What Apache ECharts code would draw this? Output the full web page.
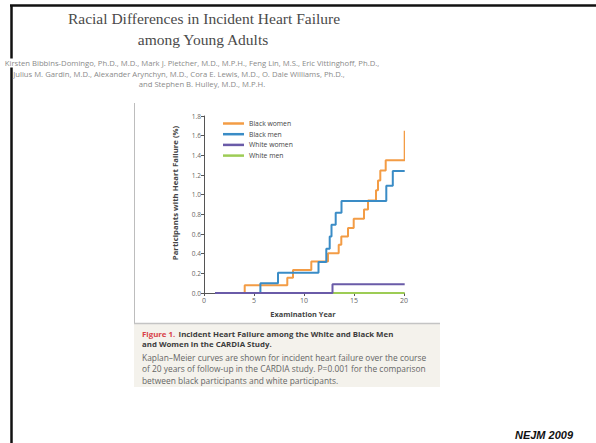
<!DOCTYPE html>
<html>
<head>
<meta charset="utf-8">
<script src="https://cdn.jsdelivr.net/npm/echarts@6/dist/echarts.min.js"></script>
<style>
html,body{margin:0;padding:0;background:#fff;}
#c{width:596px;height:443px;}
</style>
</head>
<body>
<div id="c"></div>
<script>
// ---- data ----
var seriesNames = ['Black women', 'Black men', 'White women', 'White men'];
var blackWomenYears = [1.1, 4.07, 8.33, 8.9, 10.73, 12.4, 13.47, 13.73, 14.4, 14.97, 16.0, 16.4, 17.2, 17.4, 17.63, 18.17, 20.07];
var blackWomenVals  = [0, 0.08, 0.155, 0.235, 0.32, 0.405, 0.49, 0.575, 0.66, 0.755, 0.85, 0.94, 1.045, 1.145, 1.245, 1.35, 1.65];
var blackMenYears = [1.1, 5.64, 7.4, 11.45, 12.23, 12.57, 12.75, 13.17, 13.75, 18.23, 18.88, 20.07];
var blackMenVals  = [0, 0.10, 0.205, 0.315, 0.45, 0.575, 0.695, 0.815, 0.935, 1.09, 1.24, 1.24];
var whiteWomenYears = [1.1, 12.85, 20.07];
var whiteWomenVals  = [0, 0.09, 0.09];
var whiteMenYears = [1.1, 20.07];
var whiteMenVals  = [0, 0];
var xTicks = [0, 5, 10, 15, 20];
var yTicks = [0, 0.2, 0.4, 0.6, 0.8, 1.0, 1.2, 1.4, 1.6, 1.8];

var titleLines = ['Racial Differences in Incident Heart Failure', 'among Young Adults'];
var authorLines = [
  'Kirsten Bibbins-Domingo, Ph.D., M.D., Mark J. Pletcher, M.D., M.P.H., Feng Lin, M.S., Eric Vittinghoff, Ph.D.,',
  'Julius M. Gardin, M.D., Alexander Arynchyn, M.D., Cora E. Lewis, M.D., O. Dale Williams, Ph.D.,',
  'and Stephen B. Hulley, M.D., M.P.H.'
];
var captionBold = ['Incident Heart Failure among the White and Black Men', 'and Women in the CARDIA Study.'];
var captionBody = [
  'Kaplan\u2013Meier curves are shown for incident heart failure over the course',
  'of 20 years of follow-up in the CARDIA study. P=0.001 for the comparison',
  'between black participants and white participants.'
];

function pairs(xs, ys){ return xs.map(function(x,i){ return [x, ys[i]]; }); }

var colors = ['#F39C45', '#3A8CC6', '#6A5BA8', '#9DCC55'];
var sans = 'Open Sans';

var chart = echarts.init(document.getElementById('c'), null, {renderer:'svg'});

var graphics = [
  // black frame
  {type:'line', shape:{x1:10, y1:5.5, x2:596, y2:5.5}, style:{stroke:'#111', lineWidth:2.5}, silent:true},
  {type:'line', shape:{x1:11.5, y1:5, x2:11.5, y2:443}, style:{stroke:'#111', lineWidth:2.5}, silent:true},
  {type:'rect', shape:{x:9, y:58.5, width:6, height:9}, style:{fill:'#fff'}, silent:true},
  // figure panel
  {type:'line', shape:{x1:134.5, y1:103, x2:134.5, y2:323}, style:{stroke:'#bdbdbd', lineWidth:1}, silent:true},
  {type:'rect', shape:{x:134, y:323, width:306, height:64}, style:{fill:'#F4F2EC'}, silent:true},
  {type:'line', shape:{x1:134, y1:323.5, x2:440, y2:323.5}, style:{stroke:'#c4c4c4', lineWidth:1.5}, silent:true},
  // title
  {type:'text', x:204, y:18, style:{text:titleLines[0], font:'15.5px "Liberation Serif"', fill:'#4a4a4a', textAlign:'center', textVerticalAlign:'middle'}},
  {type:'text', x:203, y:39, style:{text:titleLines[1], font:'15.5px "Liberation Serif"', fill:'#4a4a4a', textAlign:'center', textVerticalAlign:'middle'}},
  // authors
  {type:'text', x:192, y:63, style:{text:authorLines[0], font:'7.7px "' + sans + '"', fill:'#8a8a8a', textAlign:'center', textVerticalAlign:'middle'}},
  {type:'text', x:179, y:73.5, style:{text:authorLines[1], font:'7.7px "' + sans + '"', fill:'#8a8a8a', textAlign:'center', textVerticalAlign:'middle'}},
  {type:'text', x:202, y:84, style:{text:authorLines[2], font:'7.7px "' + sans + '"', fill:'#8a8a8a', textAlign:'center', textVerticalAlign:'middle'}},
  // axis names
  {type:'text', x:175, y:193, rotation:Math.PI/2, style:{text:'Participants with Heart Failure (%)', font:'bold 7.8px "' + sans + '"', fill:'#444', textAlign:'center', textVerticalAlign:'middle'}},
  {type:'text', x:303, y:314, style:{text:'Examination Year', font:'bold 7.4px "' + sans + '"', fill:'#444', textAlign:'center', textVerticalAlign:'middle'}},
  // caption
  {type:'text', x:142, y:334, style:{
    text:'{r|Figure 1.} {b|' + captionBold[0] + '}',
    textVerticalAlign:'middle',
    rich:{r:{font:'bold 7.85px "' + sans + '"', fill:'#D8414A'}, b:{font:'bold 7.85px "' + sans + '"', fill:'#3c3c3c'}}
  }},
  {type:'text', x:142, y:344, style:{text:captionBold[1], font:'bold 7.85px "' + sans + '"', fill:'#3c3c3c', textVerticalAlign:'middle'}},
  {type:'text', x:142, y:357, style:{text:captionBody[0], font:'8.4px "' + sans + '"', fill:'#666', textVerticalAlign:'middle'}},
  {type:'text', x:142, y:368.5, style:{text:captionBody[1], font:'8.4px "' + sans + '"', fill:'#666', textVerticalAlign:'middle'}},
  {type:'text', x:142, y:380, style:{text:captionBody[2], font:'8.4px "' + sans + '"', fill:'#666', textVerticalAlign:'middle'}},
  // source
  {type:'text', x:544, y:435, style:{text:'NEJM 2009', font:'italic bold 11px "Liberation Sans"', fill:'#111', textAlign:'center', textVerticalAlign:'middle'}}
];

var option = {
  animation:false,
  backgroundColor:'#fff',
  color:colors,
  grid:{left:204, top:116, width:200, height:177, containLabel:false},
  legend:{
    data:seriesNames, orient:'vertical', left:218, top:114.5,
    icon:'rect', itemWidth:21, itemHeight:2.5, itemGap:2.7,
    textStyle:{fontSize:6.8, lineHeight:8, color:'#444', fontFamily:sans}
  },
  xAxis:{
    type:'value', min:xTicks[0], max:xTicks[xTicks.length-1], interval:5,
    axisLine:{lineStyle:{color:'#555', width:1}},
    axisTick:{show:true, length:3, lineStyle:{color:'#555'}},
    axisLabel:{fontSize:7, color:'#666', margin:4, fontFamily:sans},
    splitLine:{show:false}
  },
  yAxis:{
    type:'value', min:yTicks[0], max:yTicks[yTicks.length-1], interval:0.2,
    axisLine:{show:true, lineStyle:{color:'#555', width:1}},
    axisTick:{show:true, length:3, lineStyle:{color:'#555'}},
    axisLabel:{fontSize:6.5, color:'#666', margin:3, fontFamily:sans, formatter:function(v){return v.toFixed(1);}},
    splitLine:{show:false}
  },
  series:[
    {name:seriesNames[0], type:'line', step:'end', showSymbol:false, symbol:'none', clip:false, z:2,
     lineStyle:{width:2, color:colors[0]}, data:pairs(blackWomenYears, blackWomenVals)},
    {name:seriesNames[1], type:'line', step:'end', showSymbol:false, symbol:'none', clip:false, z:3,
     lineStyle:{width:2, color:colors[1]}, data:pairs(blackMenYears, blackMenVals)},
    {name:seriesNames[2], type:'line', step:'end', showSymbol:false, symbol:'none', clip:false, z:5,
     lineStyle:{width:2, color:colors[2]}, data:pairs(whiteWomenYears, whiteWomenVals)},
    {name:seriesNames[3], type:'line', step:'end', showSymbol:false, symbol:'none', clip:false, z:1,
     lineStyle:{width:2, color:colors[3]}, data:pairs(whiteMenYears, whiteMenVals)}
  ],
  graphic:graphics
};
chart.setOption(option);
</script>
</body>
</html>
